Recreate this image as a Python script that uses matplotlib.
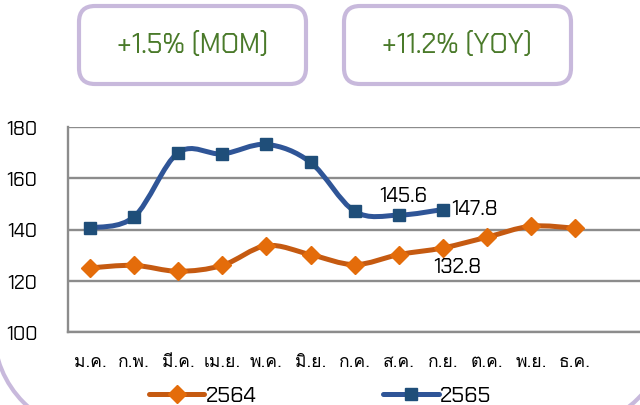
import numpy as np
import matplotlib.pyplot as plt
from matplotlib.path import Path
from matplotlib.patches import PathPatch, FancyBboxPatch, Arc
from matplotlib.lines import Line2D

months = ["ม.ค.", "ก.พ.", "มี.ค.", "เม.ย.", "พ.ค.", "มิ.ย.",
          "ก.ค.", "ส.ค.", "ก.ย.", "ต.ค.", "พ.ย.", "ธ.ค."]
y2564 = [125.0, 126.0, 123.7, 126.0, 133.7, 130.2, 126.3, 130.2, 132.8, 137.0, 141.3, 140.5]
y2565 = [140.6, 145.0, 170.0, 169.5, 173.2, 166.2, 147.1, 145.6, 147.8]
yticks = [100, 120, 140, 160, 180]
box_texts = ["+1.5% (MOM)", "+11.2% (YOY)"]

square_font = ["Chakra Petch", "DejaVu Sans"]
thai_font = ["Loma", "Noto Sans Thai", "DejaVu Sans"]
plt.rcParams["font.family"] = square_font


def smooth_path(xs, ys):
    pts = np.column_stack([xs, ys]).astype(float)
    n = len(pts)
    verts = [pts[0]]
    codes = [Path.MOVETO]
    for i in range(n - 1):
        p0 = pts[i - 1] if i > 0 else pts[i]
        p1, p2 = pts[i], pts[i + 1]
        p3 = pts[i + 2] if i + 2 < n else pts[i + 1]
        verts += [p1 + (p2 - p0) / 6, p2 - (p3 - p1) / 6, p2]
        codes += [Path.CURVE4] * 3
    return Path(verts, codes)


fig = plt.figure(figsize=(6.4, 4.06), dpi=100)

# background layer in pixel coords
bg = fig.add_axes([0, 0, 1, 1], zorder=0)
bg.set_xlim(0, 640)
bg.set_ylim(406, 0)
bg.axis("off")
lav = "#c8b9dc"
for (x0, x1), txt in zip([(79, 306), (344, 571)], box_texts):
    bg.add_patch(FancyBboxPatch((x0, 7), x1 - x0, 78,
                                boxstyle="round,pad=0,rounding_size=16",
                                fill=False, edgecolor=lav, lw=3))
    bg.text((x0 + x1) / 2, 46, txt, ha="center", va="center",
            fontsize=19.5, color="#4a7a2a")
bg.add_patch(Arc((95, 332), 202, 202, theta1=90, theta2=180, color=lav, lw=3))
bg.add_patch(Arc((560, 322), 220, 220, theta1=0, theta2=90, color=lav, lw=3))

ax = fig.add_axes([68 / 640, 1 - 333 / 406, 1 - 68 / 640, 205 / 406], zorder=1)
ax.patch.set_alpha(0)
x = np.arange(len(months))
ax.set_xlim(-0.5, 12.47)
ax.set_ylim(100, 180)
ax.set_yticks(yticks)
ax.set_xticks(x)
ax.set_xticklabels(months, family=thai_font, fontsize=12.5)
ax.tick_params(axis="y", length=0, pad=22, labelsize=14)
ax.tick_params(axis="x", length=0, pad=16)
ax.grid(axis="y", color="#8c8c8c", lw=1.7)
ax.set_axisbelow(True)
for s in ["top", "right"]:
    ax.spines[s].set_visible(False)
for s in ["left", "bottom"]:
    ax.spines[s].set_color("#8c8c8c")
    ax.spines[s].set_linewidth(1.7)

orange_line, orange_mk = "#c55a11", "#e46c0a"
blue_line, blue_mk = "#2f5597", "#1f4e79"

ax.add_patch(PathPatch(smooth_path(x, y2564), fill=False, edgecolor=orange_line,
                       lw=3.6, capstyle="round", joinstyle="round", zorder=3))
ax.plot(x, y2564, ls="none", marker="D", ms=9, color=orange_mk, zorder=4)
x65 = x[:len(y2565)]
ax.add_patch(PathPatch(smooth_path(x65, y2565), fill=False, edgecolor=blue_line,
                       lw=3.6, capstyle="round", joinstyle="round", zorder=3))
ax.plot(x65, y2565, ls="none", marker="s", ms=8, color=blue_mk, zorder=4)

ax.annotate(f"{y2565[7]:.1f}", (x65[7], y2565[7]), xytext=(3, 14),
            textcoords="offset points", ha="center", va="center", fontsize=15)
ax.annotate(f"{y2565[8]:.1f}", (x65[8], y2565[8]), xytext=(6, 1),
            textcoords="offset points", ha="left", va="center", fontsize=15)
ax.annotate(f"{y2564[8]:.1f}", (x[8], y2564[8]), xytext=(10, -13),
            textcoords="offset points", ha="center", va="center", fontsize=15)

handles = [Line2D([], [], color=orange_line, lw=3.6, marker="D", ms=9,
                  markerfacecolor=orange_mk, markeredgecolor=orange_mk, solid_capstyle="round"),
           Line2D([], [], color=blue_line, lw=3.6, marker="s", ms=8,
                  markerfacecolor=blue_mk, markeredgecolor=blue_mk, solid_capstyle="round")]
fig.legend(handles, ["2564", "2565"], loc="center", bbox_to_anchor=(320 / 640, 1 - 397 / 406),
           ncol=2, frameon=False, fontsize=16, handlelength=2.5, handletextpad=0.05,
           columnspacing=5.7, borderaxespad=0, borderpad=0)

fig.savefig("out.png", dpi=100)
